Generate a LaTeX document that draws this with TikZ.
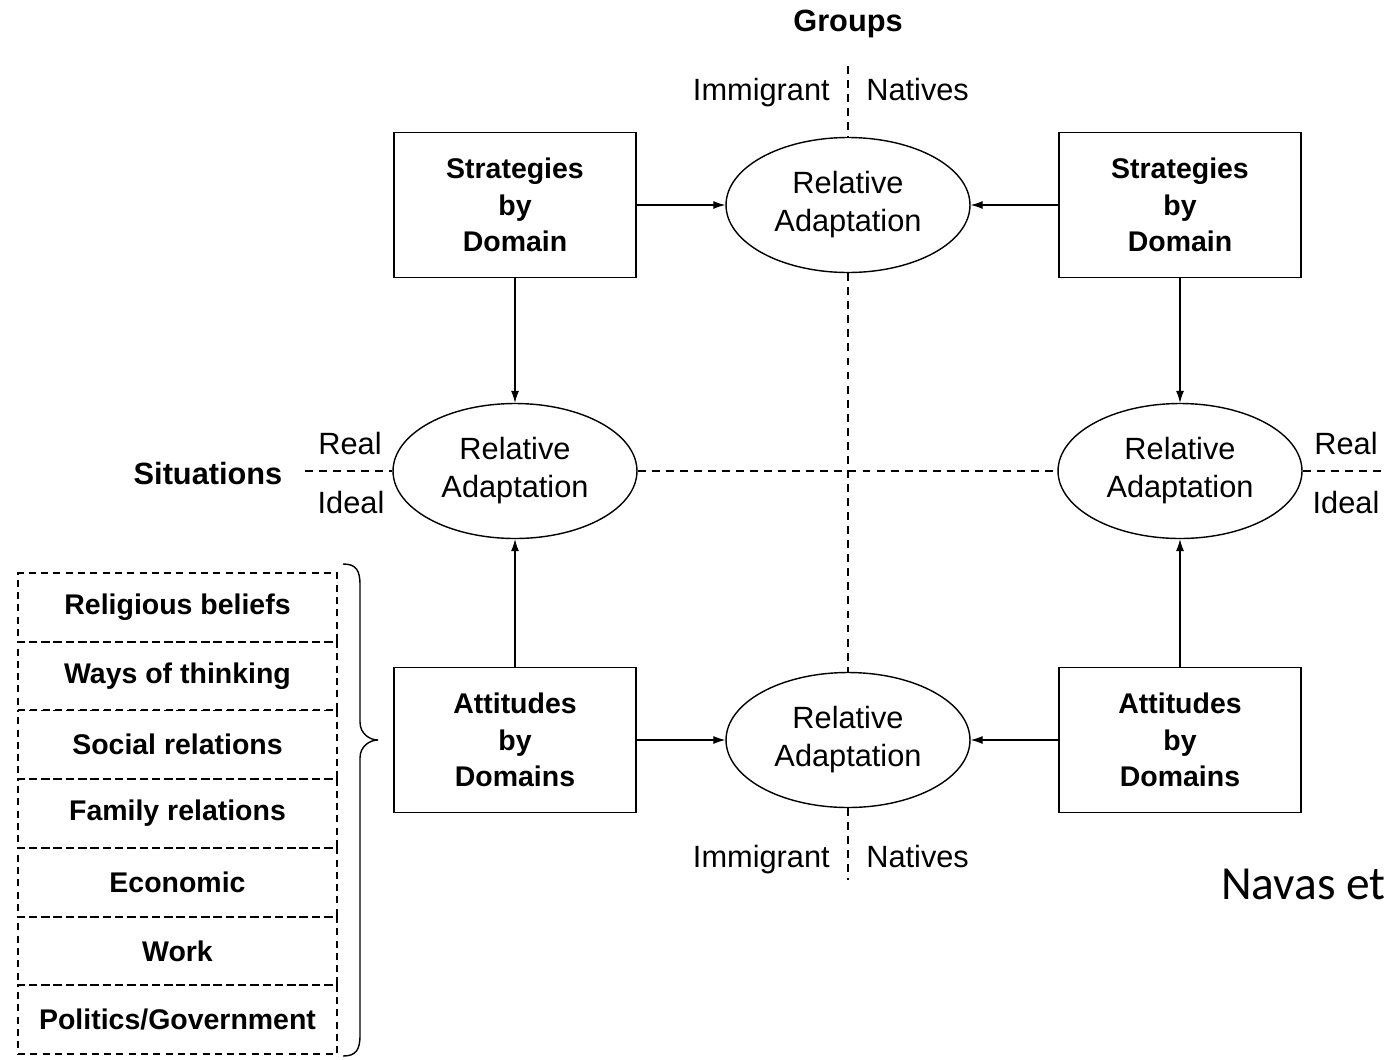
\documentclass[tikz,border=0pt]{standalone}
\usepackage{fontspec}
\setmainfont{Liberation Sans}
\newfontfamily\carlito{Carlito}
\usepackage{tikz}
\usetikzlibrary{calc, arrows.meta, shapes.geometric}
\newcommand{\txtreg}{\fontsize{17.5}{21.6}\selectfont}
\newcommand{\txtbold}{\fontsize{16.2}{20.8}\selectfont\bfseries}
\tikzstyle{domaine} = [rectangle, draw=black, line width=1.1pt, minimum width=4.84cm, minimum height=2.9cm, align=center, font=\txtbold]
\tikzstyle{adapt} = [ellipse, draw=black, line width=0.8pt, minimum width=4.88cm, minimum height=2.7cm, inner sep=0pt, align=center, font=\txtreg]
\tikzstyle{champ} = [rectangle, draw=black, dash pattern=on 4pt off 3pt, line width=1.1pt, minimum width=6.38cm, minimum height=1.374cm, font=\txtbold]
\tikzstyle{axe} = [dash pattern=on 4.5pt off 3.5pt, line width=0.8pt]
\tikzstyle{etiq} = [font=\txtreg, inner sep=0pt]
\tikzstyle{fleche} = [->, line width=0.6pt]

\begin{document}
\begin{tikzpicture}[x=0.02cm, y=-0.02cm, >={Latex[length=2.4mm, width=1.6mm]}]

        \useasboundingbox (0,0) rectangle (1386,1059);

        \node (groups) [etiq, font=\txtreg\bfseries] at (848,24) {Groups};
        \node (situ)   [etiq, font=\txtreg\bfseries, anchor=base] at (208,484) {Situations};

        \node (strg) [domaine] at (515,205)  {Strategies\\by\\Domain};
        \node (strd) [domaine] at (1180,205) {Strategies\\by\\Domain};
        \node (attg) [domaine] at (515,740)  {Attitudes\\by\\Domains};
        \node (attd) [domaine] at (1180,740) {Attitudes\\by\\Domains};

        \node (adh) [adapt] at (848,205)  {Relative\\Adaptation};
        \node (adb) [adapt] at (848,740)  {Relative\\Adaptation};
        \node (adg) [adapt] at (515,471)  {Relative\\Adaptation};
        \node (add) [adapt] at (1180,471) {Relative\\Adaptation};

        \draw [fleche] (strg.east) -- (adh.west);
        \draw [fleche] (strd.west) -- (adh.east);
        \draw [fleche] (attg.east) -- (adb.west);
        \draw [fleche] (attd.west) -- (adb.east);
        \draw [fleche] (strg.south) -- (adg.north);
        \draw [fleche] (attg.north) -- (adg.south);
        \draw [fleche] (strd.south) -- (add.north);
        \draw [fleche] (attd.north) -- (add.south);

        \coordinate (ghaut)   at (848,66);
        \coordinate (gbas)    at (848,880);
        \coordinate (sgauche) at (305,471);
        \coordinate (sdroite) at (1386,471);

        \draw [axe] (ghaut) -- (adh.north);
        \draw [axe] (adh.south) -- (adb.north);
        \draw [axe] (adb.south) -- (gbas);
        \draw [axe] (sgauche) -- (adg.west);
        \draw [axe] (adg.east) -- (add.west);
        \draw [axe] (add.east) -- (sdroite);

        \node (immh) [etiq, anchor=base east] at (830,100) {Immigrant};
        \node (nath) [etiq, anchor=base west] at (866,100) {Natives};
        \node (immb) [etiq, anchor=base east] at (830,867) {Immigrant};
        \node (natb) [etiq, anchor=base west] at (866,867) {Natives};

        \node (realg)  [etiq, anchor=base] at (350,454)  {Real};
        \node (idealg) [etiq, anchor=base] at (351,513)  {Ideal};
        \node (reald)  [etiq, anchor=base] at (1346,454) {Real};
        \node (ideald) [etiq, anchor=base] at (1346,513) {Ideal};

        \foreach \nom [count=\i] in {Religious beliefs, Ways of thinking, Social relations, Family relations, Economic, Work, Politics/Government}
            \node (champ\i) [champ] at (177.5,538.7+68.7*\i) {\nom};

        \draw [line width=0.8pt] (343,564) .. controls (356,564) and (360,570) .. (360,585) -- (360,722)
            .. controls (360,734) and (370,740) .. (378,740)
            .. controls (370,740) and (360,746) .. (360,758) -- (360,1035)
            .. controls (360,1050) and (356,1056) .. (343,1056);

        \node (source) [font=\carlito\fontsize{27}{32}\selectfont, anchor=east, inner sep=0pt] at (1386,884) {Navas et};

    \end{tikzpicture}
\end{document}
